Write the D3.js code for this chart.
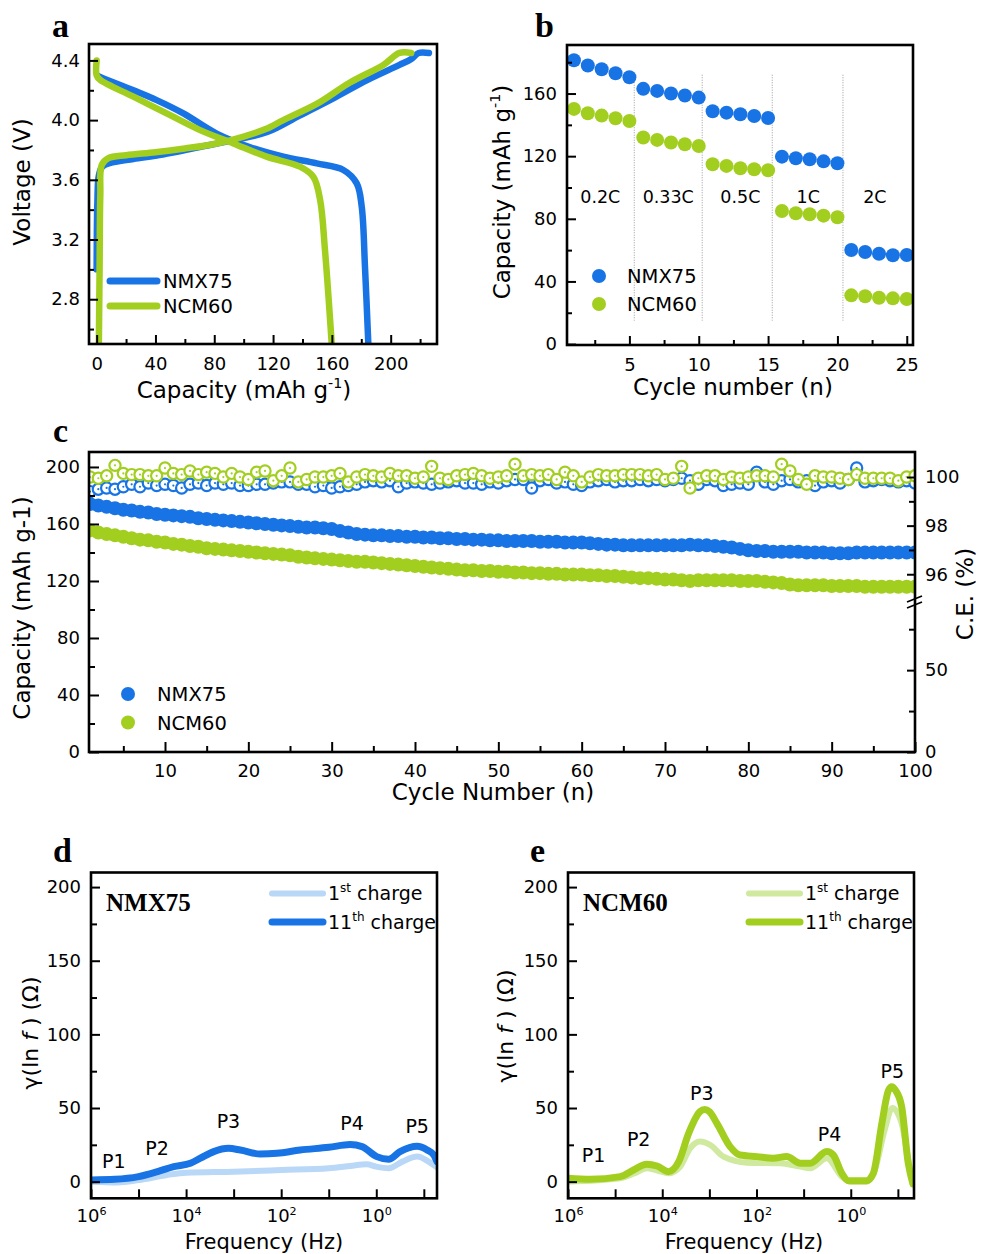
<!DOCTYPE html>
<html><head><meta charset="utf-8">
<script src="https://cdn.jsdelivr.net/npm/d3@7"></script>
<style>
body{margin:0;background:#fff;}
svg text{font-family:"DejaVu Sans",sans-serif;fill:#000;}
</style></head><body>
<svg id="chart" width="981" height="1254"></svg>
<script>
// ---------------- DATA ----------------
const seriesNames = ["NMX75", "NCM60"];
// panel a: [capacity, voltage]
const aNMXcharge = [[0,3.0],[0.5,3.45],[1.5,3.63],[4,3.69],[10,3.715],[25,3.74],[45,3.77],[70,3.82],[93,3.866],[116,3.92],[138,4.03],[161,4.146],[184,4.268],[206,4.37],[214,4.41],[219,4.45],[226,4.45]];
const aNCMcharge = [[1.5,2.5],[2,3.0],[2.5,3.5],[3.5,3.7],[8,3.745],[20,3.765],[40,3.785],[60,3.81],[80,3.84],[100,3.89],[115,3.94],[127,4.0],[150,4.11],[172,4.25],[195,4.37],[206,4.45],[214,4.45]];
const aNMXdischarge = [[0.5,4.3],[2.3,4.29],[25,4.2],[40.8,4.134],[59,4.045],[81.6,3.91],[104,3.82],[127,3.755],[149.7,3.71],[167.8,3.666],[176.9,3.576],[180.3,3.42],[182.5,3.02],[184.8,2.5]];
const aNCMdischarge = [[0,4.4],[0,4.3],[2.3,4.27],[25,4.157],[47.6,4.045],[70.3,3.933],[93,3.844],[115.6,3.755],[138.3,3.688],[147.4,3.62],[152,3.465],[155.3,3.13],[159.9,2.5]];
const aXTicks = [0,40,80,120,160,200];
const aYTicks = [2.8,3.2,3.6,4.0,4.4];

// panel b
const bCycles = d3.range(1, 26);
const bNMX = [181.3,177.9,175.5,173,170.4, 163,161.7,160,158.7,157.4, 148.7,147.8,146.8,145.7,144.4, 119.7,118.7,118,116.7,115.5, 60.1,58.8,57.7,56.7,56.9];
const bNCM = [150.2,147.4,145.9,144.2,142.5, 131.9,130.4,128.7,127.6,126.5, 114.8,113.8,112.3,111.6,111, 85,83.5,82.9,82,81, 31.1,30.5,29.6,29.2,28.8];
const bRates = ["0.2C","0.33C","0.5C","1C","2C"];
const bRateX = [2.9,7.8,13,17.9,22.7];
const bRateY = 94;
const bBoundaries = [5.35,10.25,15.3,20.4];
const bXTicks = [5,10,15,20,25];
const bYTicks = [0,40,80,120,160];

// panel c
const cCycles = d3.range(1, 101);
const cCapNMX = [174,173,172,171,170,169.5,168.5,168,167,166.5, 166,165.5,165,164,163.5,163,162.5,162,161.5,161, 160.5,160,159.5,159,158.5,158,157.5,157.5,157,156.5, 155,154,153,152.5,152,152,151.5,151.5,151,151, 150.5,150.5,150,150,149.5,149.5,149,149,148.5,148.5, 148,148,148,148,147.5,147.5,147.5,147,147,147, 146.5,146,145.5,145.5,145,145,145,145,145,145, 145,145,145.5,145,145,144.5,144,143.5,142.5,141.5, 141,141,140.5,140.5,140.5,140.5,140,140,140,139.5, 139.5,139.5,140,140,140,140,140,140,140,140];
const cCapNCM = [155.5,154,153,152,151,150,149,148.5,147.5,147, 146,145.5,144.5,144,143,142.5,142,141.5,141,140.5, 140,139.5,139,138.5,138,137,136.5,136,135.5,135, 134.5,134,133.5,133.5,133,132.5,132,131.5,131,130.5, 130,129.5,129,128.5,128,127.5,127.5,127,127,126.5, 126.5,126,126,125.5,125.5,125,125,124.5,124.5,124.5, 124,124,123.5,123.5,123,122.5,122,122,121.5,121, 121,120.5,120,120.5,120.5,120.5,120.5,120.5,120,120, 120,119.5,119,118.5,117.5,117,117,117,117,116.5, 116.5,116.5,116.5,116,116,116,116,116,116,116];
const cCeNMX = [99.4,99.5,99.55,99.5,99.6,99.7,99.6,99.75,99.65,99.7, 99.65,99.55,99.7,99.75,99.65,99.75,99.7,99.75,99.65,99.65, 99.7,99.7,99.75,99.8,99.8,99.7,99.7,99.6,99.65,99.55, 99.6,99.65,99.7,99.8,99.85,99.8,99.85,99.6,99.75,99.8, 99.75,99.7,99.75,99.8,99.85,99.75,99.75,99.7,99.8,99.75, 99.85,99.9,99.9,99.55,99.85,99.9,99.75,99.8,99.7,99.65, 99.8,99.85,99.9,99.8,99.85,99.85,99.9,99.85,99.9,99.85, 99.9,99.95,99.85,99.7,99.9,99.85,99.65,99.7,99.75,99.7, 100.2,99.8,99.7,99.85,99.9,99.8,99.85,99.65,99.8,99.85, 99.75,99.9,100.37,99.8,99.85,99.9,99.85,99.8,99.85,99.75];
const cCeNCM = [100.0,99.95,100.05,100.48,100.15,100.1,100.1,100.05,100.05,100.37, 100.15,100.1,100.25,100.1,100.2,100.15,100.0,100.15,100.0,99.9, 100.2,100.25,99.85,100.05,100.37,99.8,99.9,100.0,100.0,100.05, 100.15,99.8,100.0,100.1,100.05,100.0,100.15,100.05,100.05,99.95, 100.0,100.44,99.95,99.9,100.05,100.1,100.15,100.05,99.95,100.0, 100.05,100.53,100.05,100.1,100.05,100.1,99.9,100.2,100.05,99.8, 100.0,100.1,100.05,100.05,100.1,100.1,100.1,100.05,100.1,99.9, 99.95,100.44,99.55,99.95,100.05,100.05,99.9,100.0,99.95,100.0, 100.05,100.05,100.0,100.53,100.25,99.9,99.7,100.05,100.0,100.0, 99.95,99.9,100.1,99.95,99.95,99.95,99.95,99.85,100.0,100.05];
const cXTicks = [10,20,30,40,50,60,70,80,90,100];
const cYTicks = [0,40,80,120,160,200];
const cCeTicks = [0,50,96,98,100];

// panels d, e: [log10 frequency, gamma]
const dFirst = [[6.0,0],[5.45,-0.5],[5.0,1.1],[4.4,4.5],[4.0,6.1],[3.0,6.8],[2.0,7.9],[1.0,9.1],[0.55,10.6],[0.2,11.8],[0,10.2],[-0.26,9.1],[-0.55,13.6],[-0.86,17.0],[-1.1,13.6],[-1.277,9.7]];
const dEleventh = [[6.0,1.2],[5.5,1.6],[5.0,3.4],[4.6,6.8],[4.26,10.2],[3.91,12.5],[3.7,15.9],[3.42,20.4],[3.11,22.6],[2.86,21.5],[2.44,18.8],[2.09,19.3],[1.6,21.5],[1.0,23.3],[0.55,25.2],[0.3,23.8],[-0.01,17.0],[-0.26,15.2],[-0.5,20.4],[-0.86,24.0],[-1.07,21.5],[-1.21,18.1],[-1.277,13.6]];
const eFirst = [[6.0,0],[4.89,2.3],[4.6,5.5],[4.33,9.1],[4.1,7.5],[3.87,5.7],[3.62,10.2],[3.41,22.6],[3.2,27.2],[2.98,24.9],[2.7,17.0],[2.2,12.9],[1.5,12.5],[1.07,10.2],[0.86,9.1],[0.51,15.9],[0.19,3.4],[0.01,0],[-0.34,0],[-0.51,7.9],[-0.72,35.1],[-0.88,50],[-1.08,39.6],[-1.25,10.2],[-1.33,0]];
const eEleventh = [[6.0,2.3],[5.53,1.6],[4.89,3.4],[4.61,7.9],[4.33,11.8],[4.11,10.6],[3.87,6.8],[3.65,13.6],[3.44,32.8],[3.2,47.5],[3.1,49],[3.0,47.5],[2.84,39.6],[2.56,23.8],[2.35,18.1],[1.99,17.0],[1.64,15.9],[1.36,17.0],[1.07,12.5],[0.86,12.5],[0.51,20.4],[0.37,18.1],[0.19,5.7],[0.05,0.7],[-0.34,0.7],[-0.48,5.7],[-0.66,39.6],[-0.8,62],[-0.87,64.5],[-0.95,62],[-1.08,51.0],[-1.22,12.5],[-1.32,-1.6]];
const peakNames = ["P1","P2","P3","P4","P5"];
const dPeakPos = [[5.52,13.6],[4.61,22.7],[3.11,40.8],[0.51,39.7],[-0.86,37.4]];
const ePeakPos = [[5.46,18.1],[4.50,28.8],[3.16,60.1],[0.45,32.2],[-0.88,74.7]];
const legendCharges = [["1","st"," charge"],["11","th"," charge"]];
const freqMajor = [1e6,1e4,1e2,1];
const freqMinor = [1e5,1e3,10,0.1];
const gYTicks = [0,50,100,150,200];

// ---------------- STYLE ----------------
const C = {nmx:"#1874e4", ncm:"#a2cf1f", nmxL:"#b9d7f6", ncmL:"#cfe99e"};
const svg = d3.select("#chart");
svg.append("rect").attr("width",981).attr("height",1254).attr("fill","#fff");

function frame(x0,y0,x1,y1){
  svg.append("rect").attr("x",x0).attr("y",y0).attr("width",x1-x0).attr("height",y1-y0)
    .attr("fill","none").attr("stroke","#000").attr("stroke-width",2.6);
}
function axis(axisFn, scale, tx, ty, major, minor, majLen, minLen, pad, fmt){
  const gMin = svg.append("g").attr("transform",`translate(${tx},${ty})`)
    .call(axisFn(scale).tickValues(minor).tickSizeInner(-minLen).tickSizeOuter(0).tickFormat(()=>""));
  gMin.select(".domain").remove();
  const gMaj = svg.append("g").attr("transform",`translate(${tx},${ty})`)
    .call(axisFn(scale).tickValues(major).tickSizeInner(-majLen).tickSizeOuter(0).tickPadding(pad).tickFormat(fmt));
  gMaj.select(".domain").remove();
  [gMin,gMaj].forEach(g=>{
    g.attr("font-size",18).attr("font-family","DejaVu Sans");
    g.selectAll("line").attr("stroke","#000").attr("stroke-width",2);
    g.selectAll("text").attr("fill","#000");
  });
  return gMaj;
}
function rich(x,y,rot,size,parts,anchor){
  const t = svg.append("text").attr("transform",`translate(${x},${y}) rotate(${rot})`)
    .attr("font-size",size).attr("text-anchor",anchor||"middle");
  let shifted = false;
  parts.forEach(p=>{
    const s = t.append("tspan").text(p.t);
    if(p.sup){ s.attr("font-size",size*0.62).attr("dy",-size*0.42); shifted=true; }
    else if(shifted){ s.attr("dy",size*0.42); shifted=false; }
    if(p.it) s.attr("font-style","italic");
  });
  return t;
}
function panelLetter(x,y,l){
  svg.append("text").attr("x",x).attr("y",y).text(l)
    .attr("font-weight","bold").attr("font-size",34)
    .style("font-family","'Liberation Serif',serif");
}

// ---------------- PANEL a ----------------
{
  const x = d3.scaleLinear().domain([-5.2,231.5]).range([89,437]);
  const y = d3.scaleLinear().domain([2.5,4.51]).range([344,44]);
  const line = d3.line().x(d=>x(d[0])).y(d=>y(d[1])).curve(d3.curveCatmullRom.alpha(0.5));
  svg.append("clipPath").attr("id","clipA").append("rect").attr("x",89).attr("y",44).attr("width",348).attr("height",300);
  const g = svg.append("g").attr("clip-path","url(#clipA)");
  [[aNMXcharge,C.nmx],[aNMXdischarge,C.nmx],[aNCMcharge,C.ncm],[aNCMdischarge,C.ncm]].forEach(([d,c])=>{
    g.append("path").attr("d",line(d)).attr("fill","none").attr("stroke",c).attr("stroke-width",6.5)
      .attr("stroke-linecap","round").attr("stroke-linejoin","round");
  });
  axis(d3.axisBottom,x,0,344,aXTicks,[20,60,100,140,180,220],9,5,13,d3.format("d"));
  axis(d3.axisLeft,y,89,0,aYTicks,[2.6,3.0,3.4,3.8,4.2],9,5,9,d3.format(".1f"));
  frame(89,44,437,344);
  [C.nmx,C.ncm].forEach((c,i)=>{
    const yy = 281 + i*25;
    svg.append("line").attr("x1",110).attr("x2",157).attr("y1",yy).attr("y2",yy)
      .attr("stroke",c).attr("stroke-width",7).attr("stroke-linecap","round");
    svg.append("text").attr("x",163).attr("y",yy).attr("dy","0.36em").attr("font-size",19.5).text(seriesNames[i]);
  });
  rich(244,398,0,23,[{t:"Capacity (mAh g"},{t:"-1",sup:true},{t:")"}]);
  rich(30,182,-90,23,[{t:"Voltage (V)"}]);
  panelLetter(52,37,"a");
}

// ---------------- PANEL b ----------------
{
  const x = d3.scaleLinear().domain([0.5,25.45]).range([567,913]);
  const y = d3.scaleLinear().domain([-0.6,191]).range([345,45]);
  bBoundaries.forEach(b=>{
    svg.append("line").attr("x1",x(b)).attr("x2",x(b)).attr("y1",y(172)).attr("y2",y(15))
      .attr("stroke","#9a9a9a").attr("stroke-width",1).attr("stroke-dasharray","1,1.5");
  });
  [[bNMX,C.nmx],[bNCM,C.ncm]].forEach(([d,c])=>{
    svg.append("g").selectAll("circle").data(d).join("circle")
      .attr("cx",(v,i)=>x(bCycles[i])).attr("cy",v=>y(v)).attr("r",7).attr("fill",c);
  });
  bRates.forEach((r,i)=>{
    svg.append("text").attr("x",x(bRateX[i])).attr("y",y(bRateY)).attr("dy","0.36em")
      .attr("text-anchor","middle").attr("font-size",17.5).text(r);
  });
  axis(d3.axisBottom,x,0,345,bXTicks,[2.5,7.5,12.5,17.5,22.5],9,5,13,d3.format("d"));
  axis(d3.axisLeft,y,567,0,bYTicks,[20,60,100,140,180],9,5,10,d3.format("d"));
  frame(567,45,913,345);
  [C.nmx,C.ncm].forEach((c,i)=>{
    const yy = 276 + i*28;
    svg.append("circle").attr("cx",599).attr("cy",yy).attr("r",7).attr("fill",c);
    svg.append("text").attr("x",627).attr("y",yy).attr("dy","0.36em").attr("font-size",19.5).text(seriesNames[i]);
  });
  rich(733,395,0,23,[{t:"Cycle number (n)"}]);
  rich(510,192,-90,23,[{t:"Capacity (mAh g"},{t:"-1",sup:true},{t:")"}]);
  panelLetter(535,37,"b");
}

// ---------------- PANEL c ----------------
{
  const x = d3.scaleLinear().domain([0.88,100]).range([89,915]);
  const y = d3.scaleLinear().domain([0,210.5]).range([752,452]);
  const yCE = d3.scaleLinear().domain([0,91.8,94.87,101.03]).range([752,601.7,601.7,452]);
  svg.append("clipPath").attr("id","clipC").append("rect").attr("x",89).attr("y",452).attr("width",826).attr("height",300);
  const g = svg.append("g").attr("clip-path","url(#clipC)");
  [[cCapNMX,C.nmx],[cCapNCM,C.ncm]].forEach(([d,c])=>{
    g.append("g").selectAll("circle").data(d).join("circle")
      .attr("cx",(v,i)=>x(cCycles[i])).attr("cy",v=>y(v)).attr("r",7).attr("fill",c);
  });
  [[cCeNMX,C.nmx],[cCeNCM,C.ncm]].forEach(([d,c])=>{
    const gg = g.append("g");
    gg.selectAll("circle.o").data(d).join("circle").attr("class","o")
      .attr("cx",(v,i)=>x(cCycles[i])).attr("cy",v=>yCE(v)).attr("r",5.6)
      .attr("fill","#fff").attr("stroke",c).attr("stroke-width",2.2);
    gg.selectAll("circle.dot").data(d).join("circle").attr("class","dot")
      .attr("cx",(v,i)=>x(cCycles[i])).attr("cy",v=>yCE(v)).attr("r",1.1).attr("fill",c);
  });
  axis(d3.axisBottom,x,0,752,cXTicks,[5,15,25,35,45,55,65,75,85,95],10,6,12,d3.format("d"));
  axis(d3.axisLeft,y,89,0,cYTicks,[20,60,100,140,180],10,6,9,d3.format("d"));
  axis(d3.axisRight,yCE,915,0,cCeTicks,[25,75,97,99],8,6,10,d3.format("d"));
  frame(89,452,915,752);
  [-3,3].forEach(o=>{
    svg.append("line").attr("x1",907).attr("x2",922).attr("y1",605+o).attr("y2",599+o)
      .attr("stroke","#000").attr("stroke-width",1.8);
  });
  [C.nmx,C.ncm].forEach((c,i)=>{
    const yy = 694 + i*28.5;
    svg.append("circle").attr("cx",128).attr("cy",yy).attr("r",7).attr("fill",c);
    svg.append("text").attr("x",157).attr("y",yy).attr("dy","0.36em").attr("font-size",19.5).text(seriesNames[i]);
  });
  rich(493,800,0,23,[{t:"Cycle Number (n)"}]);
  rich(30,608,-90,23,[{t:"Capacity (mAh g-1)"}]);
  rich(973,594,-90,23,[{t:"C.E. (%)"}]);
  panelLetter(53,442,"c");
}

// ---------------- PANELS d, e ----------------
function gammaPanel(x0,x1,fMin,first,eleventh,cDark,cLight,name,peaks,letter,titleX,titleYc,xTitleX){
  const y0 = 872.5, y1 = 1198.3;
  const x = d3.scaleLog().domain([1e6,fMin]).range([x0,x1]);
  const y = d3.scaleLinear().domain([-11.3,209.9]).range([y1,y0]);
  const id = "clip"+letter;
  svg.append("clipPath").attr("id",id).append("rect").attr("x",x0).attr("y",y0).attr("width",x1-x0).attr("height",y1-y0);
  const g = svg.append("g").attr("clip-path",`url(#${id})`);
  const line = d3.line().x(d=>x(Math.pow(10,d[0]))).y(d=>y(d[1])).curve(d3.curveMonotoneX);
  g.append("path").attr("d",line(first)).attr("fill","none").attr("stroke",cLight).attr("stroke-width",6)
    .attr("stroke-linecap","round").attr("stroke-linejoin","round");
  g.append("path").attr("d",line(eleventh)).attr("fill","none").attr("stroke",cDark).attr("stroke-width",7)
    .attr("stroke-linecap","round").attr("stroke-linejoin","round");
  peakNames.forEach((p,i)=>{
    svg.append("text").attr("x",x(Math.pow(10,peaks[i][0]))).attr("y",y(peaks[i][1])).attr("dy","0.36em")
      .attr("text-anchor","middle").attr("font-size",19).text(p);
  });
  const gx = axis(d3.axisBottom,x,0,y1,freqMajor,freqMinor,9,9,11,()=>"");
  gx.selectAll(".tick text").each(function(d){
    const t = d3.select(this);
    t.text("10");
    t.append("tspan").attr("dy","-0.6em").attr("font-size","0.62em").text(Math.round(Math.log10(d)));
  });
  axis(d3.axisLeft,y,x0,0,gYTicks,[25,75,125,175],9,6,10,d3.format("d"));
  frame(x0,y0,x1,y1);
  const lx0 = x1 - 165, lx1 = x1 - 114;
  [[cLight,6],[cDark,7]].forEach(([c,w],i)=>{
    const yy = 893.5 + i*28.5;
    svg.append("line").attr("x1",lx0).attr("x2",lx1).attr("y1",yy).attr("y2",yy)
      .attr("stroke",c).attr("stroke-width",w).attr("stroke-linecap","round");
    const t = svg.append("text").attr("x",lx1+5).attr("y",yy).attr("dy","0.36em").attr("font-size",19);
    t.append("tspan").text(legendCharges[i][0]);
    t.append("tspan").attr("dy",-8).attr("font-size",12).text(legendCharges[i][1]);
    t.append("tspan").attr("dy",8).text(legendCharges[i][2]);
  });
  svg.append("text").attr("x",x0+15).attr("y",910.5).text(name)
    .style("font-family","'Liberation Serif',serif").attr("font-weight","bold").attr("font-size",25);
  rich(xTitleX,1249,0,21,[{t:"Frequency (Hz)"}]);
  rich(titleX,titleYc,-90,22,[{t:"γ(ln "},{t:"f",it:true},{t:" ) (Ω)"}]);
  panelLetter(x0-38,862,letter);
}
gammaPanel(91,437,Math.pow(10,-1.277),dFirst,dEleventh,C.nmx,C.nmxL,"NMX75",dPeakPos,"d",38,1033,264);
gammaPanel(568,914,Math.pow(10,-1.342),eFirst,eEleventh,C.ncm,C.ncmL,"NCM60",ePeakPos,"e",513,1026,744);
</script>
</body></html>
